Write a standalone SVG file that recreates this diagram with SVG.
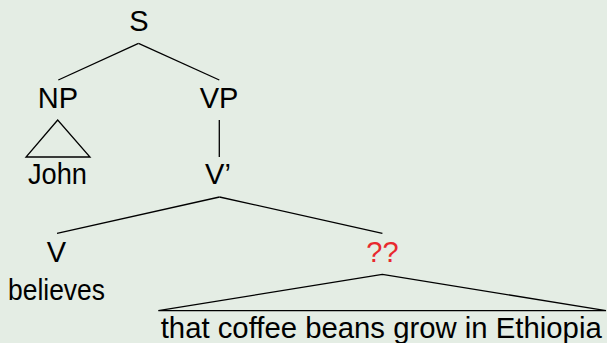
<svg xmlns="http://www.w3.org/2000/svg" width="607" height="343" viewBox="0 0 607 343">
<style>
text{font-family:"Liberation Sans",Arial,sans-serif;font-size:29px;fill:#000;text-anchor:middle}
.q{fill:#e8282e}
.e{fill:none;stroke:#000;stroke-width:1.3}
</style>
<rect width="607" height="343" fill="#e4ede4"/>
<g id="connectors">
<line class="e" x1="138.5" y1="43.3" x2="58.3" y2="80"/>
<line class="e" x1="138.5" y1="43.3" x2="219.3" y2="80"/>
<line class="e" x1="219.3" y1="120" x2="219.3" y2="157"/>
<polygon class="e" points="57.7,120 26,157 90,157"/>
<line class="e" x1="219.5" y1="197" x2="57" y2="233.3"/>
<line class="e" x1="219.5" y1="197" x2="382.4" y2="233.3"/>
<polygon class="e" points="382.4,274.3 158.3,310.7 606,310.7"/>
</g>
<g id="S"><text x="139" y="31">S</text></g>
<g id="NP"><text x="58" y="108">NP</text></g>
<g id="VP"><text x="219" y="108">VP</text></g>
<g id="John"><text x="57.5" y="184" textLength="59" lengthAdjust="spacingAndGlyphs">John</text></g>
<g id="Vbar"><text x="218" y="184">V’</text></g>
<g id="V"><text x="56.5" y="262">V</text></g>
<g id="Q"><text class="q" x="382.4" y="262">??</text></g>
<g id="believes"><text x="56.5" y="300" textLength="97" lengthAdjust="spacingAndGlyphs">believes</text></g>
<g id="clause"><text x="160.7" y="338" style="text-anchor:start" textLength="441" lengthAdjust="spacingAndGlyphs">that coffee beans grow in Ethiopia</text></g>
</svg>
